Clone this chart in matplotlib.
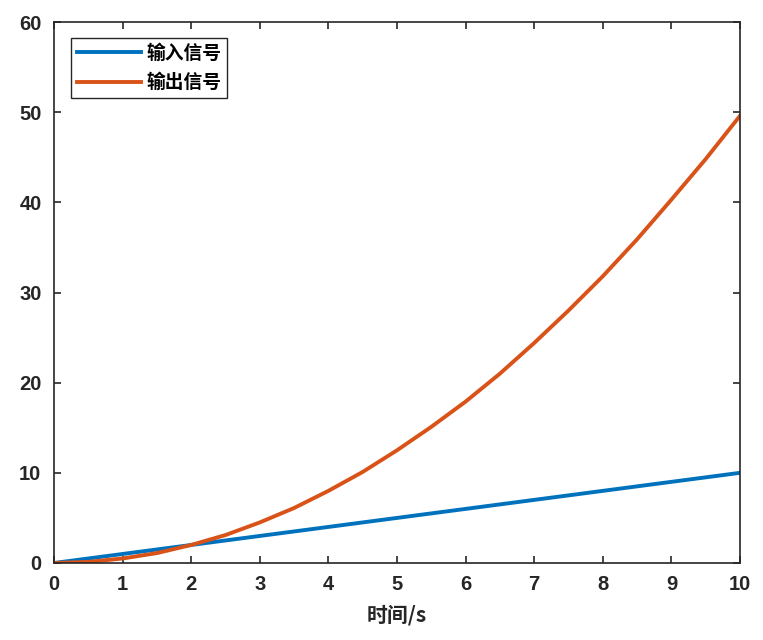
import matplotlib.pyplot as plt

plt.rcParams['font.family'] = ['Liberation Sans', 'Noto Sans CJK SC', 'DejaVu Sans']

# values
t = [0, 0.5, 1, 1.5, 2, 2.5, 3, 3.5, 4, 4.5, 5, 5.5, 6, 6.5, 7, 7.5, 8, 8.5, 9, 9.5, 10]
y_in = [0, 0.5, 1, 1.5, 2, 2.5, 3, 3.5, 4, 4.5, 5, 5.5, 6, 6.5, 7, 7.5, 8, 8.5, 9, 9.5, 10]
y_out = [0, 0.12, 0.5, 1.1, 2.0, 3.1, 4.5, 6.1, 8.0, 10.1, 12.5, 15.1, 17.9, 21.0, 24.4, 28.0, 31.8, 35.9, 40.3, 44.8, 49.6]
x_ticks = list(range(0, 11))
y_ticks = [0, 10, 20, 30, 40, 50, 60]

fig = plt.figure(figsize=(7.63, 6.4), dpi=100)
ax = fig.add_axes([54/763, 77/640, 686/763, 541/640])

ax.plot(t, y_in, color='#0072BD', lw=2.8, label='输入信号')
ax.plot(t, y_out, color='#D95319', lw=2.8, label='输出信号')

ax.set_xlim(0, 10)
ax.set_ylim(0, 60)
ax.set_xticks(x_ticks)
ax.set_yticks(y_ticks)
ax.tick_params(direction='in', top=True, right=True, length=5, width=1.2,
               labelsize=14.5, colors='#262626', pad=9)
for lab in ax.get_xticklabels() + ax.get_yticklabels():
    lab.set_fontweight('bold')
for s in ax.spines.values():
    s.set_linewidth(1.2)
    s.set_color('#262626')

ax.set_xlabel('时间/s', fontsize=15, fontweight='bold', color='#262626',
              family=['Noto Sans CJK SC', 'DejaVu Sans'], labelpad=7)

leg = ax.legend(loc='upper left', bbox_to_anchor=(0.025, 0.97),
                prop={'family': ['Noto Sans CJK SC', 'DejaVu Sans'], 'weight': 'bold', 'size': 13.5},
                fancybox=False, framealpha=1, edgecolor='#262626',
                handlelength=3.4, borderpad=0.3, labelspacing=0.55, handletextpad=0.3,
                borderaxespad=0)
leg.get_frame().set_linewidth(1.0)

fig.savefig('out.png', dpi=100)
